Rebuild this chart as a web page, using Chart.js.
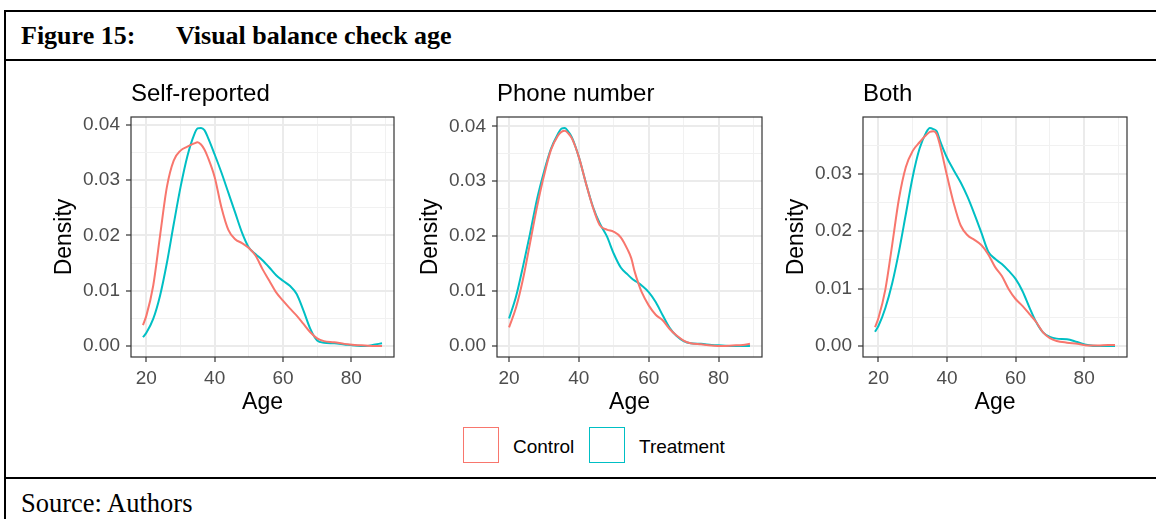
<!DOCTYPE html>
<html>
<head>
<meta charset="utf-8">
<script src="https://cdn.jsdelivr.net/npm/chart.js@4.4.1/dist/chart.umd.min.js"></script>
<style>
html,body{margin:0;padding:0;background:#fff;}
body{width:1156px;height:519px;overflow:hidden;position:relative;font-family:'Liberation Sans',Arial,sans-serif;}
.abs{position:absolute;}
#frame{left:4px;top:10px;width:1300px;height:600px;border-left:2px solid #000;border-top:2px solid #000;}
.rule{left:4px;width:1300px;height:2px;background:#000;}
.serif{font-family:'Liberation Serif','Times New Roman',serif;font-size:26px;line-height:26px;color:#000;white-space:nowrap;}
canvas{position:absolute;}
.key{width:36px;height:36px;box-sizing:border-box;border:1.6px solid;background:#fff;}
.ltext{font-size:19px;line-height:36px;color:#000;white-space:nowrap;}
</style>
</head>
<body>
<div id="frame" class="abs"></div>
<div class="abs rule" style="top:59px"></div>
<div class="abs rule" style="top:477px"></div>
<div class="abs serif" style="left:21px;top:23px;font-weight:bold">Figure 15:</div>
<div class="abs serif" style="left:176px;top:23px;font-weight:bold">Visual balance check age</div>
<div class="abs serif" style="left:21px;top:490px;font-size:26.5px">Source: Authors</div>

<canvas id="p1" width="358" height="350" style="left:40px;top:70px"></canvas>
<canvas id="p2" width="360" height="350" style="left:406px;top:70px"></canvas>
<canvas id="p3" width="359" height="350" style="left:772px;top:70px"></canvas>

<div id="legend"></div>

<script>
// ---------- data ----------
const panelTitles = ['Self-reported', 'Phone number', 'Both'];
const seriesNames = ['Control', 'Treatment'];
const seriesColors = ['#F8766D', '#00BFC4'];

const xTickValues = [20, 40, 60, 80];
const xTickLabels = ['20', '40', '60', '80'];
const xMinorValues = [10, 30, 50, 70, 90];
const yTickValues = [0, 0.01, 0.02, 0.03, 0.04];
const yTickLabels = ['0.00', '0.01', '0.02', '0.03', '0.04'];
const yMinorValues = [0.005, 0.015, 0.025, 0.035];

const ages1 = [19,20,22,24,26,28,30,32,34,35,36,37,38,40,42,44,46,48,50,52,54,56,58,60,62,64,66,68,70,72,75,78,81,84,87,89];
const control1 = [0.0038,0.0055,0.0109,0.0199,0.0287,0.0335,0.0353,0.0360,0.0366,0.0368,0.0364,0.0355,0.0341,0.0305,0.0250,0.0210,0.0193,0.0186,0.0177,0.0163,0.0139,0.0118,0.0097,0.0082,0.0068,0.0055,0.0040,0.0025,0.0014,0.0009,0.0007,0.0004,0.0002,0.0001,0.0000,0.0000];
const treatment1 = [0.0016,0.0024,0.0049,0.0091,0.0150,0.0220,0.0287,0.0343,0.0382,0.0393,0.0394,0.0390,0.0377,0.0346,0.0313,0.0277,0.0241,0.0205,0.0178,0.0166,0.0155,0.0142,0.0128,0.0118,0.0109,0.0094,0.0064,0.0031,0.0010,0.0006,0.0005,0.0003,0.0001,0.0000,0.0003,0.0005];

const ages2 = [20,22,24,26,28,30,32,34,35,36,37,38,40,42,44,46,48,50,52,54,55,56,57,58,60,62,64,66,68,70,72,75,78,81,84,87,89];
const control2 = [0.0034,0.0070,0.0122,0.0187,0.0253,0.0310,0.0357,0.0383,0.0390,0.0392,0.0387,0.0378,0.0344,0.0297,0.0253,0.0220,0.0212,0.0208,0.0198,0.0175,0.0160,0.0135,0.0115,0.0098,0.0074,0.0057,0.0047,0.0031,0.0019,0.0010,0.0005,0.0003,0.0001,0.0000,0.0001,0.0002,0.0004];
const treatment2 = [0.0050,0.0090,0.0145,0.0204,0.0267,0.0317,0.0359,0.0386,0.0396,0.0397,0.0390,0.0380,0.0344,0.0297,0.0254,0.0223,0.0200,0.0168,0.0143,0.0130,0.0124,0.0119,0.0115,0.0110,0.0098,0.0080,0.0056,0.0033,0.0018,0.0009,0.0005,0.0004,0.0002,0.0001,0.0000,0.0000,0.0000];

const ages3 = [19,20,22,24,26,28,30,32,34,35,36,37,38,40,42,44,46,48,50,52,54,56,58,60,62,64,66,68,70,72,75,78,81,84,87,89];
const control3 = [0.0033,0.0049,0.0098,0.0176,0.0257,0.0312,0.0340,0.0355,0.0368,0.0373,0.0374,0.0369,0.0349,0.0297,0.0248,0.0210,0.0193,0.0185,0.0176,0.0160,0.0138,0.0122,0.0099,0.0082,0.0070,0.0056,0.0042,0.0024,0.0014,0.0009,0.0006,0.0004,0.0001,0.0001,0.0002,0.0002];
const treatment3 = [0.0025,0.0035,0.0066,0.0109,0.0165,0.0230,0.0295,0.0344,0.0373,0.0380,0.0378,0.0374,0.0357,0.0328,0.0306,0.0285,0.0260,0.0230,0.0198,0.0165,0.0152,0.0143,0.0131,0.0117,0.0096,0.0068,0.0042,0.0024,0.0016,0.0013,0.0012,0.0007,0.0002,0.0000,0.0000,0.0000];

const xRanges = [[15.5, 92.5], [16.55, 92.45], [15.5, 92.5]];
const yRanges = [[-0.00197, 0.04137], [-0.002, 0.0417], [-0.0019, 0.0399]];

// ---------- drawing ----------
Chart.defaults.font.family = "'Liberation Sans', Arial, sans-serif";
Chart.defaults.color = '#4D4D4D';

const near = (a, b) => Math.abs(a - b) < 1e-9;
const isMajorX = v => xTickValues.some(t => near(t, v));
const isMajorY = v => yTickValues.some(t => near(t, v));

const panelBorder = {
  id: 'panelBorder',
  afterDatasetsDraw(chart) {
    const {ctx, chartArea: {left, top, right, bottom}} = chart;
    ctx.save();
    ctx.strokeStyle = '#333333';
    ctx.lineWidth = 1.2;
    ctx.strokeRect(left, top, right - left, bottom - top);
    ctx.restore();
  }
};

function gridOpts(isMajor) {
  return {
    color: c => (c.tick && isMajor(c.tick.value)) ? '#EBEBEB' : '#F1F1F1',
    lineWidth: c => (c.tick && isMajor(c.tick.value)) ? 2 : 1,
    tickColor: c => (c.tick && isMajor(c.tick.value)) ? '#333333' : 'rgba(0,0,0,0)',
    tickWidth: 1.2,
    tickLength: 5,
    drawTicks: true,
    drawOnChartArea: true
  };
}

function makePanel(id, idx, ages, ctrl, trt) {
  const xr = xRanges[idx], yr = yRanges[idx];
  const series = [ctrl, trt];
  new Chart(document.getElementById(id), {
    type: 'line',
    data: {
      datasets: series.map((vals, s) => ({
        label: seriesNames[s],
        data: ages.map((a, i) => ({x: a, y: vals[i]})),
        borderColor: seriesColors[s],
        backgroundColor: seriesColors[s],
        borderWidth: 2,
        pointRadius: 0,
        fill: false,
        cubicInterpolationMode: 'monotone'
      }))
    },
    options: {
      responsive: false,
      animation: false,
      devicePixelRatio: 1,
      layout: {padding: {left: 0, right: 4, top: 0, bottom: 0}},
      plugins: {
        legend: {display: false},
        tooltip: {enabled: false},
        title: {
          display: true,
          text: panelTitles[idx],
          align: 'start',
          fullSize: false,
          color: '#000',
          font: {size: 24, weight: 'normal'},
          padding: {top: 10.2, bottom: 8}
        }
      },
      scales: {
        x: {
          type: 'linear',
          min: xr[0], max: xr[1],
          afterBuildTicks: axis => {
            axis.ticks = xTickValues.concat(xMinorValues)
              .filter(v => v >= axis.min && v <= axis.max)
              .sort((a, b) => a - b)
              .map(v => ({value: v}));
          },
          afterFit: s => { s.height = 63; },
          ticks: {
            autoSkip: false, maxRotation: 0,
            padding: 5,
            color: '#4D4D4D',
            font: {size: 19},
            callback: v => { const k = xTickValues.findIndex(t => near(t, v)); return k >= 0 ? xTickLabels[k] : ''; }
          },
          grid: gridOpts(isMajorX),
          border: {display: false},
          title: {display: true, text: 'Age', color: '#000', font: {size: 23}, padding: {top: 0, bottom: 4}}
        },
        y: {
          type: 'linear',
          min: yr[0], max: yr[1],
          afterBuildTicks: axis => {
            axis.ticks = yTickValues.concat(yMinorValues)
              .filter(v => v >= axis.min && v <= axis.max)
              .sort((a, b) => a - b)
              .map(v => ({value: v}));
          },
          afterFit: s => { s.width = 91; },
          ticks: {
            autoSkip: false,
            padding: 6,
            color: '#4D4D4D',
            font: {size: 19},
            callback: v => { const k = yTickValues.findIndex(t => near(t, v)); return k >= 0 ? yTickLabels[k] : ''; }
          },
          grid: gridOpts(isMajorY),
          border: {display: false},
          title: {display: true, text: 'Density', color: '#000', font: {size: 23}, padding: {top: 10.4, bottom: 0}}
        }
      }
    },
    plugins: [panelBorder]
  });
}

makePanel('p1', 0, ages1, control1, treatment1);
makePanel('p2', 1, ages2, control2, treatment2);
makePanel('p3', 2, ages3, control3, treatment3);

// legend (HTML, built from the series arrays)
const legend = document.getElementById('legend');
const keyLefts = [463, 589];
const textLefts = [513, 639];
seriesNames.forEach((name, s) => {
  const key = document.createElement('div');
  key.className = 'abs key';
  key.style.left = keyLefts[s] + 'px';
  key.style.top = '427px';
  key.style.borderColor = seriesColors[s];
  legend.appendChild(key);
  const txt = document.createElement('div');
  txt.className = 'abs ltext';
  txt.style.left = textLefts[s] + 'px';
  txt.style.top = '429px';
  txt.textContent = name;
  legend.appendChild(txt);
});
</script>
</body>
</html>
